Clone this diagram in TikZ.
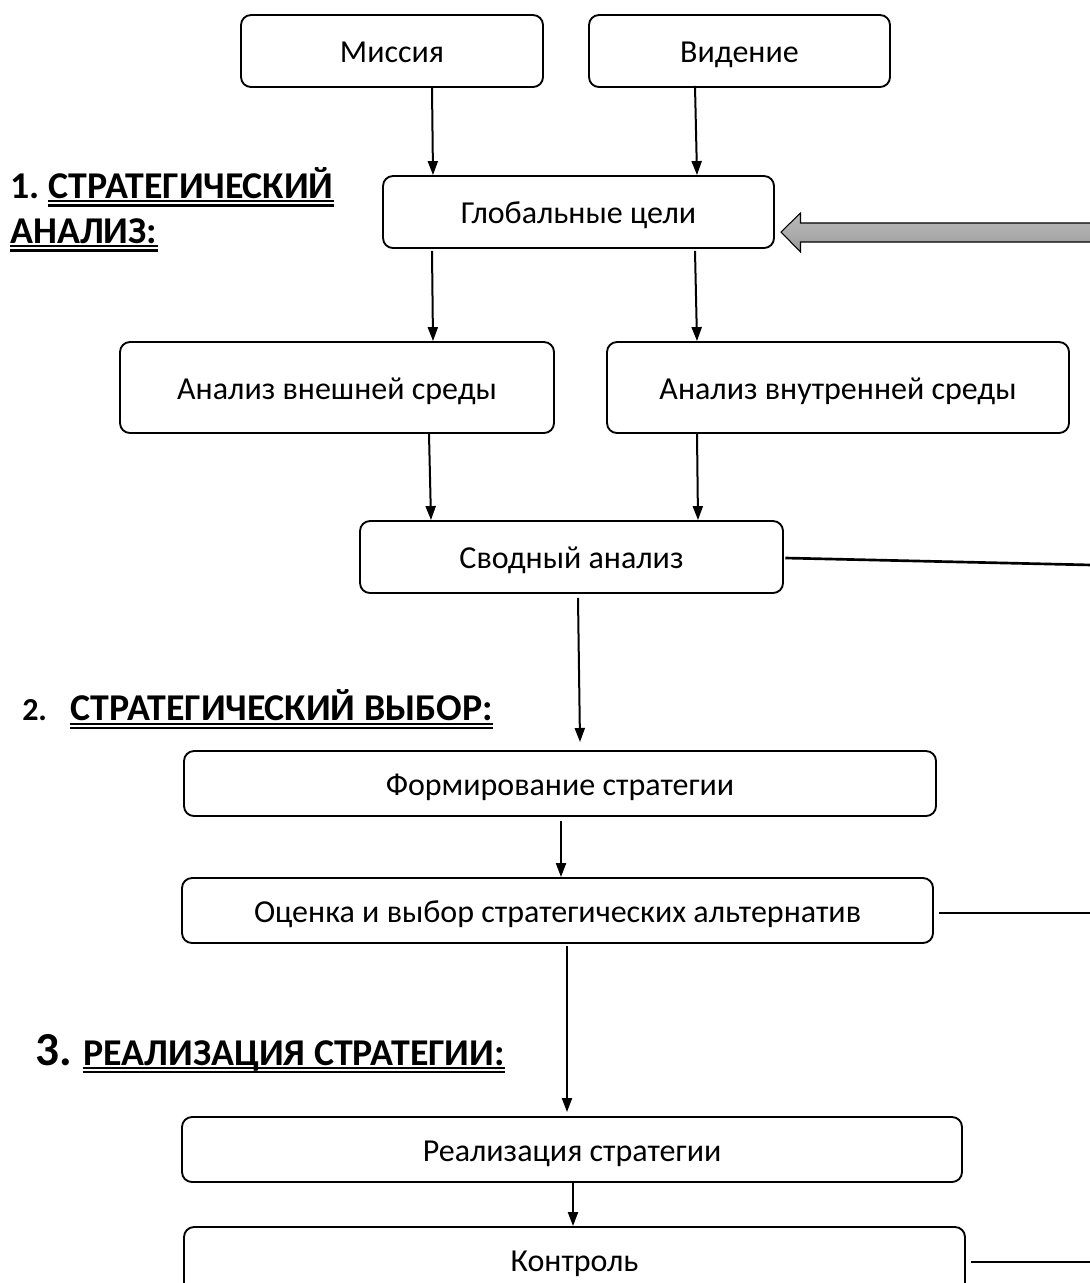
\documentclass[tikz,border=0pt]{standalone}
\usepackage{fontspec}
\setmainfont{Carlito}
\usetikzlibrary{arrows.meta}
\tikzset{
  box/.style={draw, line width=1.4pt, rounded corners=7.5pt, inner sep=0pt, align=center,
    font=\fontsize{24}{28}\selectfont, text height=17.5pt, text depth=0pt},
  arr/.style={line width=1.5pt, -{Triangle[length=10.5pt,width=7.5pt]}},
  link/.style={line width=2pt},
  head/.style={font=\bfseries\fontsize{28.4}{32}\selectfont, inner sep=0pt, anchor=base west},
  uline/.style={line width=1.6pt},
}
\begin{document}
\begin{tikzpicture}[x=0.75pt,y=-0.75pt]
\useasboundingbox (0,0) rectangle (1090,1283);
% boxes
\node[box, minimum width=302*0.75pt, minimum height=72*0.75pt] (mis) at (392,51) {Миссия};
\node[box, minimum width=301*0.75pt, minimum height=72*0.75pt] (vid) at (739.5,51) {Видение};
\node[box, minimum width=391*0.75pt, minimum height=72*0.75pt] (glo) at (578.5,212) {Глобальные цели};
\node[box, minimum width=434*0.75pt, minimum height=91*0.75pt] (vne) at (337,387.5) {Анализ внешней среды};
\node[box, minimum width=462*0.75pt, minimum height=91*0.75pt] (vnu) at (838,387.5) {Анализ внутренней среды};
\node[box, minimum width=423*0.75pt, minimum height=72*0.75pt] (svo) at (571.5,557) {Сводный анализ};
\node[box, minimum width=752*0.75pt, minimum height=65*0.75pt] (for) at (560,783.5) {Формирование стратегии};
\node[box, minimum width=751*0.75pt, minimum height=65*0.75pt] (oce) at (557.5,910.5) {Оценка и выбор стратегических альтернатив};
\node[box, minimum width=780*0.75pt, minimum height=65*0.75pt] (rea) at (572,1149.5) {Реализация стратегии};
\node[box, minimum width=781*0.75pt, minimum height=66*0.75pt] (kon) at (574.5,1260) {Контроль};
% arrows
\draw[arr] (mis.south -| 432,0) -- (glo.north -| 433,0);
\draw[arr] ([yshift=1.5pt]vid.south -| 695,0) -- (glo.north -| 697,0);
\draw[arr] ([yshift=-1.5pt]glo.south -| 432,0) -- (vne.north -| 433,0);
\draw[arr] ([yshift=-1.5pt]glo.south -| 695,0) -- (vnu.north -| 697,0);
\draw[arr] (vne.south -| 429,0) -- (svo.north -| 431,0);
\draw[arr] (vnu.south -| 697,0) -- (svo.north -| 698,0);
\coordinate (fortop) at (580,742);
\draw[arr] ([yshift=-3pt]svo.south -| 578,0) -- (fortop);
\draw[arr] ([yshift=-3pt]for.south -| 561,0) -- (oce.north -| 561,0);
\draw[arr] ([yshift=-1.5pt]oce.south -| 567,0) -- ([yshift=3pt]rea.north -| 567,0);
\draw[arr] (rea.south -| 573,0) -- (kon.north -| 573,0);
% lines to the right
\coordinate (e1) at (1092,565);
\coordinate (e2) at (1092,913);
\coordinate (e3) at (1092,1262);
\draw[link] ([xshift=1pt]svo.east |- 0,558) -- (e1);
\draw[link] ([xshift=4pt]oce.east |- 0,913) -- (e2);
\draw[link] ([xshift=4pt]kon.east |- 0,1262) -- (e3);
% grey block arrow
\coordinate (tip) at (781,232);
\draw[line width=0.8pt, top color=gray!55, bottom color=gray!80, middle color=gray!65]
  (1095,223) -- (800.5,223) -- (800.5,213) -- (tip) -- (800.5,252) -- (800.5,242) -- (1095,242) -- cycle;
% headings
\node[head] (h1n) at (10,198) {1.};
\node[head] (h1a) at (48,198) {СТРАТЕГИЧЕСКИЙ};
\node[head] (h1b) at (10,243) {АНАЛИЗ:};
\draw[uline] ([yshift=-2.4pt]h1a.base west) -- ([yshift=-2.4pt]h1a.base east);
\draw[uline] ([yshift=-5.6pt]h1a.base west) -- ([yshift=-5.6pt]h1a.base east);
\draw[uline] ([yshift=-2.4pt]h1b.base west) -- ([yshift=-2.4pt]h1b.base east);
\draw[uline] ([yshift=-5.6pt]h1b.base west) -- ([yshift=-5.6pt]h1b.base east);

\node[head, font=\bfseries\fontsize{24}{28}\selectfont] (h2n) at (22,720) {2.};
\node[head] (h2a) at (70,720) {СТРАТЕГИЧЕСКИЙ ВЫБОР:};
\draw[uline] ([yshift=-3pt]h2a.base west) -- ([yshift=-3pt]h2a.base east);
\draw[uline] ([yshift=-6.2pt]h2a.base west) -- ([yshift=-6.2pt]h2a.base east);

\node[head, font=\bfseries\fontsize{35.5}{40}\selectfont] (h3n) at (35,1065) {3.};
\node[head] (h3a) at (83,1065) {РЕАЛИЗАЦИЯ СТРАТЕГИИ:};
\draw[uline] ([yshift=-2.2pt]h3a.base west) -- ([yshift=-2.2pt]h3a.base east);
\draw[uline] ([yshift=-5.4pt]h3a.base west) -- ([yshift=-5.4pt]h3a.base east);
\end{tikzpicture}
\end{document}
